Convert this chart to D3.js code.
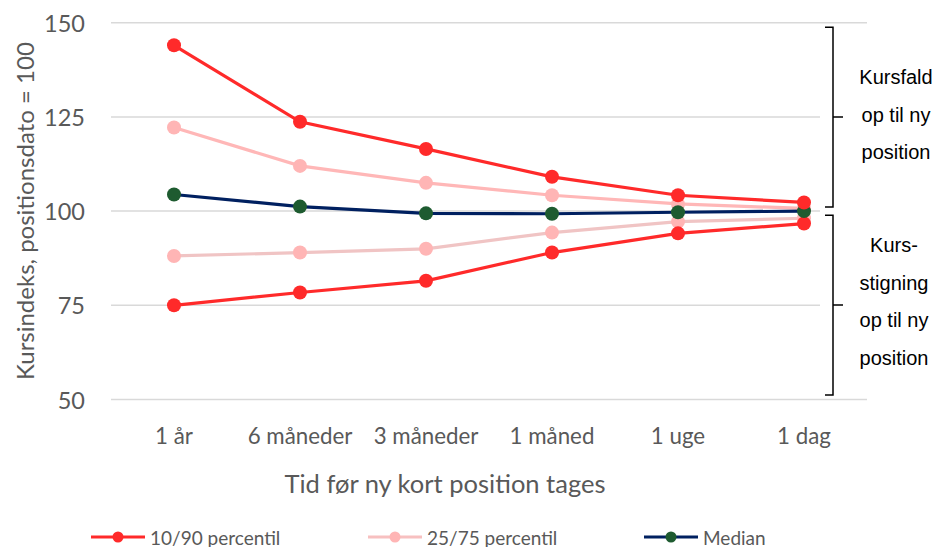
<!DOCTYPE html>
<html>
<head>
<meta charset="utf-8">
<script src="https://cdn.jsdelivr.net/npm/d3@7"></script>
<style>
  html, body { margin: 0; padding: 0; background: #fff; }
  svg { display: block; }
  .tick-label { font-family: Lato, "Open Sans", sans-serif; fill: #595959; }
  .bracket-text { font-family: "Liberation Sans", Arial, sans-serif; fill: #000; font-size: 20px; }
</style>
</head>
<body>
<svg id="chart" width="936" height="547"></svg>
<script>
// categories and series
const categories = ["1 år", "6 måneder", "3 måneder", "1 måned", "1 uge", "1 dag"];
const p90 = [144.0, 123.7, 116.5, 109.1, 104.2, 102.3];
const p75 = [122.2, 112.0, 107.5, 104.2, 101.9, 100.7];
const median = [104.4, 101.2, 99.4, 99.3, 99.7, 100.0];
const p25 = [88.1, 89.0, 90.0, 94.3, 97.2, 98.1];
const p10 = [75.0, 78.4, 81.5, 89.0, 94.1, 96.7];
const yTicks = [50, 75, 100, 125, 150];

const legendItems = [
  { name: "10/90 percentil", line: "#ff2a2a", dot: "#ff2a2a" },
  { name: "25/75 percentil", line: "#f7c0c0", dot: "#ffb5b5" },
  { name: "Median", line: "#002060", dot: "#1e5b30" }
];

const upperText = ["Kursfald", "op til ny", "position"];
const lowerText = ["Kurs-", "stigning", "op til ny", "position"];

(() => {
  const svg = d3.select("#chart");
  const mLeft = 111, mRight = 867, mTop = 22.7, mBottom = 399.5;

  const x = d3.scalePoint().domain(categories).range([mLeft, mRight]).padding(0.5);
  const y = d3.scaleLinear().domain([50, 150]).range([mBottom, mTop]);

  // gridlines
  svg.append("g")
    .selectAll("line")
    .data(yTicks)
    .join("line")
    .attr("x1", mLeft).attr("x2", mRight)
    .attr("y1", d => y(d)).attr("y2", d => y(d))
    .attr("stroke", "#d9d9d9")
    .attr("stroke-width", 1.5);

  // y tick labels
  svg.append("g")
    .selectAll("text")
    .data(yTicks)
    .join("text")
    .attr("class", "tick-label")
    .attr("x", 85)
    .attr("y", d => y(d))
    .attr("text-anchor", "end")
    .attr("dominant-baseline", "central")
    .style("font-size", "23.5px")
    .text(d => d);

  // x tick labels
  svg.append("g")
    .selectAll("text")
    .data(categories)
    .join("text")
    .attr("class", "tick-label")
    .attr("x", d => x(d))
    .attr("y", 435)
    .attr("text-anchor", "middle")
    .attr("dominant-baseline", "central")
    .style("font-size", "22.3px")
    .text(d => d);

  // axis titles
  svg.append("text")
    .attr("class", "tick-label")
    .attr("transform", `translate(24,${(mTop + mBottom) / 2}) rotate(-90)`)
    .attr("text-anchor", "middle")
    .attr("dominant-baseline", "central")
    .style("font-size", "24px")
    .text("Kursindeks, positionsdato = 100");

  svg.append("text")
    .attr("class", "tick-label")
    .attr("x", (mLeft + mRight) / 2 - 44)
    .attr("y", 483)
    .attr("text-anchor", "middle")
    .attr("dominant-baseline", "central")
    .style("font-size", "25.5px")
    .text("Tid før ny kort position tages");

  // white text box behind brackets covers the grid on the right
  svg.append("rect")
    .attr("x", 820).attr("y", y(149.3))
    .attr("width", 116).attr("height", y(50.7) - y(149.3))
    .attr("fill", "#fff");

  // series
  const line = d3.line().x((d, i) => x(categories[i])).y(d => y(d));
  const series = [
    { values: p25, line: "#f0c4c4", dot: "#ffb5b5" },
    { values: p75, line: "#ffb7b7", dot: "#ffb5b5" },
    { values: p10, line: "#ff2a2a", dot: "#ff2a2a" },
    { values: median, line: "#002060", dot: "#1e5b30" },
    { values: p90, line: "#ff2a2a", dot: "#ff2a2a" }
  ];

  const sg = svg.append("g").selectAll("g").data(series).join("g");
  sg.append("path")
    .attr("d", d => line(d.values))
    .attr("fill", "none")
    .attr("stroke", d => d.line)
    .attr("stroke-width", 3.2);
  sg.selectAll("circle")
    .data(d => d.values.map(v => ({ v, c: d.dot })))
    .join("circle")
    .attr("cx", (d, i) => x(categories[i]))
    .attr("cy", d => y(d.v))
    .attr("r", 7)
    .attr("fill", d => d.c);

  // brackets
  function bracket(y1, y2) {
    const xv = 833, ym = (y1 + y2) / 2;
    svg.append("path")
      .attr("d", `M825,${y1} L${xv},${y1} L${xv},${y2} L825,${y2} M${xv},${ym} L843,${ym}`)
      .attr("fill", "none")
      .attr("stroke", "#000")
      .attr("stroke-width", 1.5);
  }
  bracket(y(148.8), y(101.1));
  bracket(y(98.9), y(51.2));

  svg.append("g")
    .selectAll("text")
    .data(upperText)
    .join("text")
    .attr("class", "bracket-text")
    .attr("x", 896)
    .attr("y", (d, i) => 77 + i * 37.5)
    .attr("text-anchor", "middle")
    .attr("dominant-baseline", "central")
    .text(d => d);

  svg.append("g")
    .selectAll("text")
    .data(lowerText)
    .join("text")
    .attr("class", "bracket-text")
    .attr("x", 894)
    .attr("y", (d, i) => 245 + i * 37.5)
    .attr("text-anchor", "middle")
    .attr("dominant-baseline", "central")
    .text(d => d);

  // legend
  const legendX = [91, 368, 644];
  const lg = svg.append("g")
    .selectAll("g")
    .data(legendItems)
    .join("g")
    .attr("transform", (d, i) => `translate(${legendX[i]},537)`);
  lg.append("line")
    .attr("x1", 0).attr("x2", 54)
    .attr("stroke", d => d.line)
    .attr("stroke-width", 3.2);
  lg.append("circle")
    .attr("cx", 27).attr("r", 5.5)
    .attr("fill", d => d.dot);
  lg.append("text")
    .attr("class", "tick-label")
    .attr("x", 59)
    .attr("dominant-baseline", "central")
    .style("font-size", "19px")
    .text(d => d.name);
})();
</script>
</body>
</html>
